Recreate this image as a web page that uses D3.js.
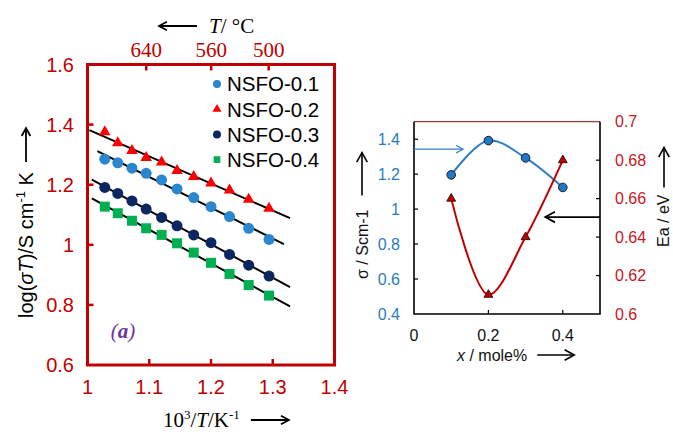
<!DOCTYPE html>
<html><head><meta charset="utf-8">
<script src="https://cdn.jsdelivr.net/npm/d3@7"></script>
<style>html,body{margin:0;padding:0;background:#fff;}svg{display:block;}</style>
</head><body>
<svg id="c" width="673" height="432"></svg>
<script>
// ---------- Data: left chart (Arrhenius) ----------
const invT = [1.028, 1.049, 1.072, 1.095, 1.120, 1.145, 1.172, 1.200, 1.230, 1.261, 1.294];
const nsfo01 = [1.285, 1.273, 1.255, 1.238, 1.216, 1.186, 1.157, 1.127, 1.094, 1.055, 1.018];
const nsfo02 = [1.376, 1.339, 1.313, 1.290, 1.275, 1.247, 1.227, 1.205, 1.182, 1.151, 1.121];
const nsfo03 = [1.191, 1.171, 1.146, 1.119, 1.091, 1.063, 1.033, 1.007, 0.968, 0.932, 0.896];
const nsfo04 = [1.127, 1.105, 1.080, 1.055, 1.033, 1.005, 0.974, 0.940, 0.903, 0.866, 0.831];
const seriesNames = ["NSFO-0.1", "NSFO-0.2", "NSFO-0.3", "NSFO-0.4"];
const fitRanges = [[1.016, 1.318], [1.003, 1.328], [1.007, 1.328], [1.007, 1.328]];
const xTicksLeft = [1, 1.1, 1.2, 1.3, 1.4];
const yTicksLeft = [0.6, 0.8, 1, 1.2, 1.4, 1.6];
const topTicksC = [640, 560, 500];

// ---------- Data: right chart ----------
const xMole = [0.1, 0.2, 0.3, 0.4];
const sigma = [1.196, 1.392, 1.293, 1.124];
const ea = [0.660, 0.610, 0.640, 0.680];
const xTicksRight = [0, 0.2, 0.4];
const sigmaTicks = [0.4, 0.6, 0.8, 1, 1.2, 1.4];
const eaTicks = [0.6, 0.62, 0.64, 0.66, 0.68, 0.7];

const SANS = "'Liberation Sans', Arial, sans-serif";
const SERIF = "'Liberation Serif', 'Times New Roman', serif";
const RED = "#c00000";
const svg = d3.select("#c");

function arrow(g, x1, y1, x2, y2, head, color, w) {
  g.append("line").attr("x1", x1).attr("y1", y1).attr("x2", x2).attr("y2", y2)
    .attr("stroke", color).attr("stroke-width", w);
  const a = Math.atan2(y2 - y1, x2 - x1);
  const p = [[x2 - head * Math.cos(a - 0.5), y2 - head * Math.sin(a - 0.5)], [x2, y2],
             [x2 - head * Math.cos(a + 0.5), y2 - head * Math.sin(a + 0.5)]];
  g.append("path").attr("d", d3.line()(p)).attr("fill", "none")
    .attr("stroke", color).attr("stroke-width", w);
}

// =============== LEFT CHART ===============
const L = { x0: 87.5, x1: 334.5, y0: 64.5, y1: 365 };
const xL = d3.scaleLinear().domain([1, 1.4]).range([L.x0, L.x1]);
const yL = d3.scaleLinear().domain([0.6, 1.6]).range([L.y1, L.y0]);
const gl = svg.append("g");

// ticks (inward)
const tickLen = 6;
gl.selectAll(".lyt").data(yTicksLeft.slice(1, -1)).enter().append("line")
  .attr("x1", L.x0).attr("x2", L.x0 + tickLen).attr("y1", d => yL(d)).attr("y2", d => yL(d))
  .attr("stroke", RED).attr("stroke-width", 2.5);
gl.selectAll(".lxt").data(xTicksLeft.slice(1, -1)).enter().append("line")
  .attr("x1", d => xL(d)).attr("x2", d => xL(d)).attr("y1", L.y1).attr("y2", L.y1 - tickLen)
  .attr("stroke", RED).attr("stroke-width", 2.5);
const topX = c => 1000 / (c + 273.15);
gl.selectAll(".ltt").data(topTicksC).enter().append("line")
  .attr("x1", d => xL(topX(d))).attr("x2", d => xL(topX(d))).attr("y1", L.y0).attr("y2", L.y0 + tickLen)
  .attr("stroke", RED).attr("stroke-width", 2.5);

// tick labels
gl.selectAll(".lyl").data(yTicksLeft).enter().append("text")
  .attr("x", 74).attr("y", d => yL(d)).attr("dy", "0.35em").attr("text-anchor", "end")
  .attr("font-family", SANS).attr("font-size", 20).attr("fill", RED)
  .text(d => d3.format("")(d));
gl.selectAll(".lxl").data(xTicksLeft).enter().append("text")
  .attr("x", d => xL(d)).attr("y", 394).attr("text-anchor", "middle")
  .attr("font-family", SANS).attr("font-size", 20).attr("fill", RED)
  .text(d => d3.format("")(d));
gl.selectAll(".ltl").data(topTicksC).enter().append("text")
  .attr("x", d => xL(topX(d))).attr("y", 57).attr("text-anchor", "middle")
  .attr("font-family", SERIF).attr("font-size", 21).attr("fill", RED)
  .text(d => d);

// fit lines (least squares)
const allY = [nsfo01, nsfo02, nsfo03, nsfo04];
const colors = ["#2b86d0", "#ff0000", "#0b2660", "#00b050"];
const symbols = [d3.symbolCircle, d3.symbolTriangle, d3.symbolCircle, d3.symbolSquare];
const sizes = [95, 58, 95, 100];
allY.forEach((ys, i) => {
  const n = invT.length;
  const mx = d3.mean(invT), my = d3.mean(ys);
  let sxy = 0, sxx = 0;
  for (let k = 0; k < n; k++) { sxy += (invT[k] - mx) * (ys[k] - my); sxx += (invT[k] - mx) ** 2; }
  const b = sxy / sxx, a = my - b * mx;
  const r = fitRanges[i];
  gl.append("line").attr("x1", xL(r[0])).attr("y1", yL(a + b * r[0]))
    .attr("x2", xL(r[1])).attr("y2", yL(a + b * r[1]))
    .attr("stroke", "#000").attr("stroke-width", 2);
});
// markers
allY.forEach((ys, i) => {
  gl.selectAll(".m" + i).data(ys).enter().append("path")
    .attr("d", d3.symbol().type(symbols[i]).size(sizes[i]))
    .attr("transform", (d, k) => `translate(${xL(invT[k])},${yL(d)})`)
    .attr("fill", colors[i]);
});

// frame
gl.append("rect").attr("x", L.x0).attr("y", L.y0).attr("width", L.x1 - L.x0).attr("height", L.y1 - L.y0)
  .attr("fill", "none").attr("stroke", RED).attr("stroke-width", 3);

// legend
const legSizes = [50, 36, 50, 45];
seriesNames.forEach((nm, i) => {
  const yy = 84 + i * 25.2;
  gl.append("path").attr("d", d3.symbol().type(symbols[i]).size(legSizes[i]))
    .attr("transform", `translate(217,${yy})`).attr("fill", colors[i]);
  gl.append("text").attr("x", 227).attr("y", yy).attr("dy", "0.36em")
    .attr("font-family", SANS).attr("font-size", 20.5).attr("fill", "#000").text(nm);
});

// (a)
const ta = gl.append("text").attr("x", 123).attr("y", 338).attr("text-anchor", "middle")
  .attr("font-family", SERIF).attr("font-size", 21).attr("font-style", "italic").attr("fill", "#7030a0");
ta.append("tspan").text("(");
ta.append("tspan").attr("font-weight", "bold").text("a");
ta.append("tspan").text(")");

// left y label
const ylab = gl.append("text").attr("transform", "translate(33,318) rotate(-90)")
  .attr("font-family", SANS).attr("font-size", 20).attr("fill", "#000");
ylab.append("tspan").text("log(");
ylab.append("tspan").attr("font-style", "italic").text("σT");
ylab.append("tspan").text(")/S cm");
ylab.append("tspan").attr("font-size", 13).attr("dy", -8).text("-1");
ylab.append("tspan").attr("dy", 8).text(" K");
const ylen = ylab.node().getComputedTextLength();
arrow(gl, 26, 318 - ylen - 10, 26, 318 - ylen - 44, 9, "#000", 1.8);

// bottom label
const xlab = gl.append("text").attr("x", 163).attr("y", 427)
  .attr("font-family", SERIF).attr("font-size", 21).attr("fill", "#000");
xlab.append("tspan").text("10");
xlab.append("tspan").attr("font-size", 13).attr("dy", -8).text("3");
xlab.append("tspan").attr("dy", 8).text("/");
xlab.append("tspan").attr("font-style", "italic").text("T");
xlab.append("tspan").text("/K");
xlab.append("tspan").attr("font-size", 13).attr("dy", -8).text("-1");
const xlen = xlab.node().getComputedTextLength();
arrow(gl, 163 + xlen + 11, 420, 163 + xlen + 49, 420, 9, "#000", 1.8);

// top label
arrow(gl, 197, 26, 159, 26, 9, "#000", 1.8);
const tlab = gl.append("text").attr("x", 209).attr("y", 33)
  .attr("font-family", SERIF).attr("font-size", 21).attr("fill", "#000");
tlab.append("tspan").attr("font-style", "italic").text("T");
tlab.append("tspan").text("/ °C");

// =============== RIGHT CHART ===============
const R = { x0: 414, x1: 600, y0: 121.7, y1: 314 };
const xR = d3.scaleLinear().domain([0, 0.5]).range([R.x0, R.x1]);
const yS = d3.scaleLinear().domain([0.4, 1.5]).range([R.y1, R.y0]);
const yE = d3.scaleLinear().domain([0.6, 0.7]).range([R.y1, R.y0]);
const gr = svg.append("g");
const BLUE = "#2e7fc4";
const BLUET = "#2a7cc0";
const REDT = "#c8161d";

// ticks
gr.selectAll(".st").data(sigmaTicks.slice(1)).enter().append("line")
  .attr("x1", R.x0).attr("x2", R.x0 + 4).attr("y1", d => yS(d)).attr("y2", d => yS(d))
  .attr("stroke", "#000").attr("stroke-width", 1.2);
gr.selectAll(".et").data(eaTicks.slice(1, -1)).enter().append("line")
  .attr("x1", R.x1).attr("x2", R.x1 - 4).attr("y1", d => yE(d)).attr("y2", d => yE(d))
  .attr("stroke", "#000").attr("stroke-width", 1.2);
gr.selectAll(".xt").data(xTicksRight.slice(1)).enter().append("line")
  .attr("x1", d => xR(d)).attr("x2", d => xR(d)).attr("y1", R.y1).attr("y2", R.y1 - 4)
  .attr("stroke", "#000").attr("stroke-width", 1.2);

// frame
gr.append("line").attr("x1", R.x0).attr("x2", R.x1).attr("y1", R.y0).attr("y2", R.y0)
  .attr("stroke", "#a33a3a").attr("stroke-width", 1.2);
gr.append("path").attr("d", d3.line()([[R.x0, R.y0], [R.x0, R.y1], [R.x1, R.y1], [R.x1, R.y0]]))
  .attr("fill", "none").attr("stroke", "#000").attr("stroke-width", 1.6);

// tick labels
gr.selectAll(".sl").data(sigmaTicks).enter().append("text")
  .attr("x", 400).attr("y", d => yS(d)).attr("dy", "0.36em").attr("text-anchor", "end")
  .attr("font-family", SANS).attr("font-size", 16).attr("fill", BLUET).text(d => d3.format("")(d));
gr.selectAll(".el").data(eaTicks).enter().append("text")
  .attr("x", 615).attr("y", d => yE(d)).attr("dy", "0.36em").attr("text-anchor", "start")
  .attr("font-family", SANS).attr("font-size", 16).attr("fill", REDT).text(d => d3.format("")(d));
gr.selectAll(".xl").data(xTicksRight).enter().append("text")
  .attr("x", d => xR(d)).attr("y", 341).attr("text-anchor", "middle")
  .attr("font-family", SANS).attr("font-size", 16).attr("fill", "#111").text(d => d3.format("")(d));

// curves
const curve = d3.curveCatmullRom.alpha(0.5);
gr.append("path").attr("d", d3.line().x((d, i) => xR(xMole[i])).y(d => yS(d)).curve(curve)(sigma))
  .attr("fill", "none").attr("stroke", BLUE).attr("stroke-width", 2);
gr.append("path").attr("d", d3.line().x((d, i) => xR(xMole[i])).y(d => yE(d)).curve(curve)(ea))
  .attr("fill", "none").attr("stroke", "#c00000").attr("stroke-width", 2);
gr.selectAll(".sp").data(sigma).enter().append("circle")
  .attr("cx", (d, i) => xR(xMole[i])).attr("cy", d => yS(d)).attr("r", 4.3)
  .attr("fill", "#1f78c8").attr("stroke", "#1a1a2a").attr("stroke-width", 1);
gr.selectAll(".ep").data(ea).enter().append("path")
  .attr("d", d3.symbol().type(d3.symbolTriangle).size(34))
  .attr("transform", (d, i) => `translate(${xR(xMole[i])},${yE(d)})`)
  .attr("fill", "#c00000").attr("stroke", "#2a0a0a").attr("stroke-width", 0.9);

// pointer arrows
arrow(gr, xR(0), yS(1.343), xR(0.132), yS(1.343), 8, BLUE, 1.1);
arrow(gr, xR(0.5), yE(0.6504), xR(0.353), yE(0.6504), 11, "#000", 1.8);

// axis labels
const slab = gr.append("text").attr("transform", "translate(368,279) rotate(-90)")
  .attr("font-family", SANS).attr("font-size", 16).attr("fill", "#111").text("σ / Scm-1");
const slen = slab.node().getComputedTextLength();
arrow(gr, 362, 279 - slen - 14, 362, 279 - slen - 57, 11, "#000", 1.6);

const elab = gr.append("text").attr("transform", "translate(669,247) rotate(-90)")
  .attr("font-family", SANS).attr("font-size", 16).attr("fill", "#111").text("Ea / eV");
const elen = elab.node().getComputedTextLength();
arrow(gr, 664, 247 - elen - 7, 664, 247 - elen - 47, 11, "#000", 1.6);

const xrl = gr.append("text").attr("x", 457).attr("y", 361)
  .attr("font-family", SANS).attr("font-size", 16).attr("fill", "#111");
xrl.append("tspan").attr("font-style", "italic").text("x");
xrl.append("tspan").text(" / mole%");
const xrlen = xrl.node().getComputedTextLength();
arrow(gr, 457 + xrlen + 10, 355, 457 + xrlen + 47, 355, 11, "#000", 1.6);
</script>
</body></html>
